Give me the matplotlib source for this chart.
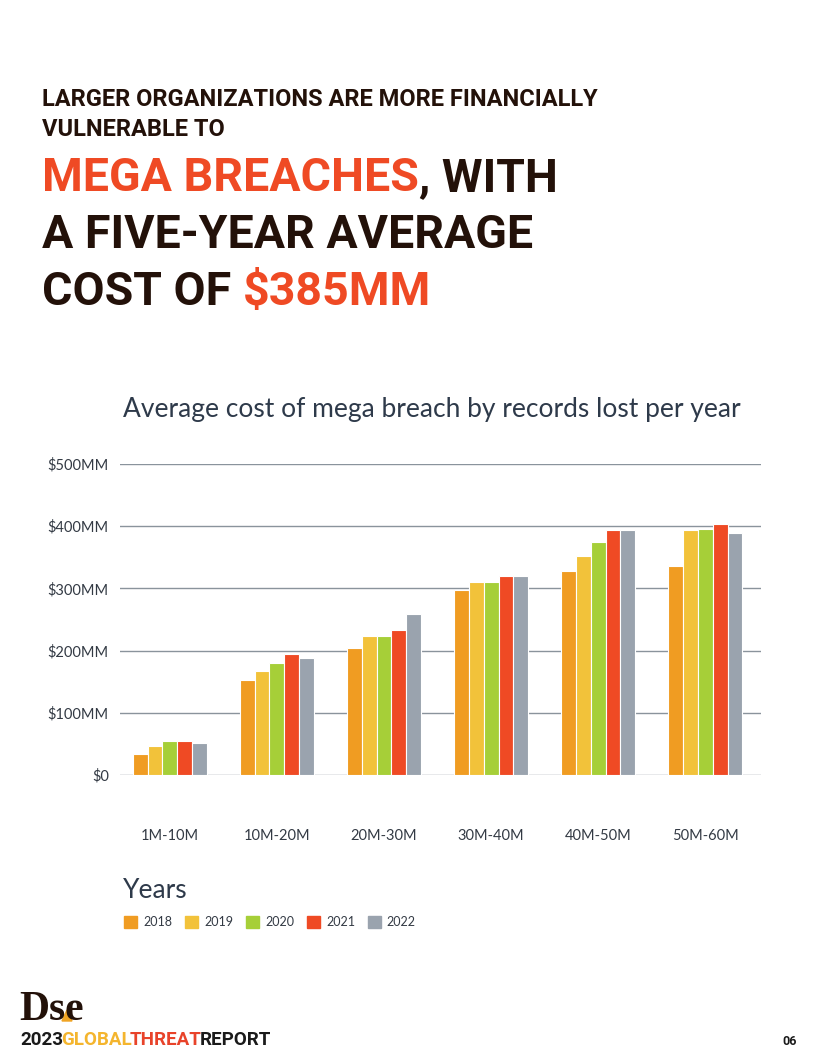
import matplotlib.pyplot as plt
import matplotlib.patches as mpatches
import numpy as np

# records lost per breach (category) and cost in $MM per year
categories = ['1M-10M', '10M-20M', '20M-30M', '30M-40M', '40M-50M', '50M-60M']
years = ['2018', '2019', '2020', '2021', '2022']
cost_2018 = [34, 153, 204, 298, 328, 336]
cost_2019 = [47, 167, 224, 311, 352, 394]
cost_2020 = [55, 180, 224, 311, 375, 396]
cost_2021 = [55, 195, 233, 320, 394, 404]
cost_2022 = [52, 188, 259, 320, 394, 389]
yticks = [0, 100, 200, 300, 400, 500]
ytick_labels = ['$0', '$100MM', '$200MM', '$300MM', '$400MM', '$500MM']

colors = ['#f09c22', '#f2c23a', '#a6cf38', '#ef4a24', '#9aa3ae']
dark = '#231109'
red = '#ef4a24'
slate = '#2e3a4a'

W, H = 814, 1060
fig = plt.figure(figsize=(W / 100, H / 100), dpi=100)
fig.patch.set_facecolor('white')


def fx(px):
    return px / W


def fy(py):
    return 1 - py / H


renderer = fig.canvas.get_renderer()


def run_text(x, y, pieces, kern=0, **kw):
    # draw a line of text made of differently coloured pieces
    for s, c in pieces:
        t = fig.text(x, y, s, color=c, **kw)
        bb = t.get_window_extent(renderer=renderer)
        x = x + (bb.width - kern) / W


head = dict(family='Roboto', weight='bold', va='baseline', ha='left')
run_text(fx(42), fy(106), [('LARGER ORGANIZATIONS ARE MORE FINANCIALLY', dark)], fontsize=17, **head)
run_text(fx(42), fy(136), [('VULNERABLE TO', dark)], fontsize=17, **head)
run_text(fx(42), fy(191), [('MEGA BREACHES', red), (', WITH', dark)], fontsize=33.5, **head)
run_text(fx(42), fy(248), [('A FIVE-YEAR AVERAGE', dark)], fontsize=33.5, **head)
run_text(fx(42), fy(305), [('COST OF ', dark), ('$385MM', red)], fontsize=33.5, **head)

fig.text(fx(123), fy(410), 'Average cost of mega breach by records lost per year',
         family='Lato', fontsize=19, color=slate, va='center', ha='left')

# chart
ax = fig.add_axes([fx(120), fy(775), fx(761) - fx(120), fy(464) - fy(775)])
series = [cost_2018, cost_2019, cost_2020, cost_2021, cost_2022]
x = np.arange(len(categories))
step = 0.14
for i, vals in enumerate(series):
    ax.bar(x + (i - 2) * step, vals, width=step, color=colors[i],
           edgecolor='white', linewidth=0.8, zorder=3, label=years[i])

ax.set_xlim(-0.467, 5.523)
ax.set_ylim(0, 500)
ax.set_yticks(yticks)
ax.set_yticklabels(ytick_labels)
ax.set_xticks(x)
ax.set_xticklabels(categories)
ax.grid(axis='y', color='#8a939c', linewidth=1, zorder=0)
for s in ax.spines.values():
    s.set_visible(False)
ax.tick_params(axis='both', length=0, labelsize=10.5, labelcolor='#333a44')
ax.tick_params(axis='x', pad=39)
ax.tick_params(axis='y', pad=8)
for lab in ax.get_xticklabels() + ax.get_yticklabels():
    lab.set_family('Lato')

# legend
fig.text(fx(123), fy(890), 'Years', family='Lato', fontsize=19, color=slate,
         va='center', ha='left')
handles = [mpatches.Patch(color=c, label=y) for c, y in zip(colors, years)]
leg = fig.legend(handles=handles, loc='center left', bbox_to_anchor=(fx(114), fy(922)),
                 ncol=5, frameon=False, handlelength=1.05, handleheight=1.05,
                 handletextpad=0.5, columnspacing=1.0, borderpad=0.3,
                 prop={'family': 'Lato', 'size': 9})
for t in leg.get_texts():
    t.set_color('#333a44')

# footer
fig.text(fx(19), fy(1020), 'Dse', family='Liberation Serif', weight='bold',
         fontsize=30, color=dark, va='baseline', ha='left')
fig.patches.append(mpatches.Polygon([[fx(62), fy(1021)], [fx(72), fy(1021)], [fx(67), fy(1010)]],
                                    closed=True, color='#f0a424', transform=fig.transFigure))
run_text(fx(20), fy(1045), [('2023', '#1a1a1a'), ('GLOBAL', '#f4b52e'),
                            ('THREAT', '#e8432a'), ('REPORT', '#1a1a1a')],
         kern=2, family='Roboto', weight='bold', fontsize=13.5, va='baseline', ha='left')
fig.text(fx(797), fy(1045), '06', family='Roboto', weight='bold', fontsize=9,
         color='#1a1a1a', va='baseline', ha='right')

fig.savefig('out.png', dpi=100, facecolor='white')
